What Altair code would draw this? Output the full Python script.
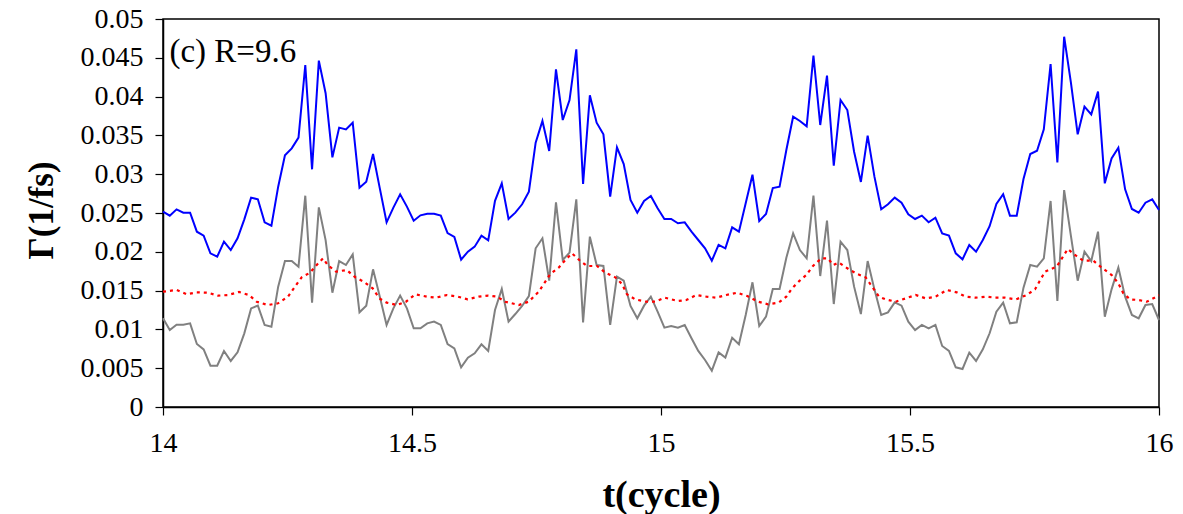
import altair as alt
import pandas as pd
import numpy as np

# time grid (cycles): 148 evenly spaced samples from 14 to 16
T = np.linspace(14, 16, 148)

BLUE = [
    0.02517, 0.02466, 0.02547, 0.02504, 0.02504, 0.02259, 0.02208, 0.01980, 0.01937, 0.02131,
    0.02023, 0.02174, 0.02418, 0.02698, 0.02676, 0.02380, 0.02337, 0.02839, 0.03243, 0.03333,
    0.03471, 0.04407, 0.03063, 0.04463, 0.04043,
    0.03217, 0.03600, 0.03578, 0.03664, 0.02826, 0.02904, 0.03260, 0.02818, 0.02380, 0.02569,
    0.02741, 0.02582, 0.02401, 0.02470, 0.02491, 0.02491, 0.02466, 0.02242, 0.02191, 0.01899,
    0.02002, 0.02066, 0.02208, 0.02148, 0.02657,
    0.02882, 0.02423, 0.02504, 0.02612, 0.02775, 0.03406, 0.03686, 0.03299, 0.04351, 0.03698,
    0.03956, 0.04609, 0.02874, 0.04016, 0.03664, 0.03514, 0.02710, 0.03346, 0.03131, 0.02668,
    0.02504, 0.02655, 0.02719, 0.02560,
    0.02423, 0.02423, 0.02367, 0.02380, 0.02259, 0.02152, 0.02045, 0.01886, 0.02088, 0.02045,
    0.02315, 0.02259, 0.02625, 0.02994, 0.02397, 0.02487, 0.02822, 0.02839, 0.03312, 0.03741,
    0.03686, 0.03617, 0.04527, 0.03634, 0.04270,
    0.03110, 0.03956, 0.03827, 0.03290, 0.02900, 0.03497, 0.02968, 0.02547, 0.02612, 0.02698,
    0.02633, 0.02483, 0.02423, 0.02466, 0.02380, 0.02440, 0.02238, 0.02208, 0.01980, 0.01903,
    0.02088, 0.02002, 0.02152, 0.02330,
    0.02616, 0.02741, 0.02466, 0.02466, 0.02938, 0.03260, 0.03303, 0.03578, 0.04420, 0.03153,
    0.04772, 0.04180, 0.03514, 0.03870, 0.03771, 0.04064, 0.02882, 0.03204, 0.03342, 0.02805,
    0.02552, 0.02504, 0.02633, 0.02676, 0.02539,
]

GRAY = [
    0.01143, 0.00992, 0.01061, 0.01061, 0.01078, 0.00812, 0.00743, 0.00533, 0.00533, 0.00722,
    0.00593, 0.00704, 0.00949, 0.01271, 0.01306, 0.01057, 0.01035, 0.01551, 0.01881, 0.01881,
    0.01808, 0.02723, 0.01344, 0.02573, 0.02150,
    0.01473, 0.01881, 0.01830, 0.01967, 0.01220, 0.01306, 0.01774, 0.01422, 0.01057, 0.01271,
    0.01435, 0.01271, 0.01014, 0.01014, 0.01078, 0.01100, 0.01057, 0.00812, 0.00756, 0.00511,
    0.00636, 0.00692, 0.00808, 0.00722, 0.01250,
    0.01521, 0.01100, 0.01198, 0.01302, 0.01430, 0.02045, 0.02174, 0.01628, 0.02637, 0.01894,
    0.01989, 0.02676, 0.01091, 0.02195, 0.01830, 0.01817, 0.01057, 0.01680, 0.01628, 0.01302,
    0.01143, 0.01306, 0.01422, 0.01229,
    0.01022, 0.01044, 0.01022, 0.01057, 0.00885, 0.00722, 0.00606, 0.00468, 0.00704, 0.00636,
    0.00893, 0.00808, 0.01186, 0.01607, 0.01044, 0.01164, 0.01521, 0.01521, 0.01924, 0.02238,
    0.02023, 0.01916, 0.02723, 0.01688, 0.02401,
    0.01327, 0.02131, 0.02023, 0.01551, 0.01198, 0.01881, 0.01516, 0.01186, 0.01220, 0.01349,
    0.01306, 0.01100, 0.00992, 0.01057, 0.01014, 0.01057, 0.00786, 0.00722, 0.00511, 0.00490,
    0.00700, 0.00593, 0.00743, 0.00950,
    0.01229, 0.01344, 0.01078, 0.01091, 0.01538, 0.01830, 0.01808, 0.01916, 0.02655, 0.01366,
    0.02796, 0.02204, 0.01628, 0.02002, 0.01881, 0.02259, 0.01164, 0.01516, 0.01796, 0.01422,
    0.01186, 0.01143, 0.01314, 0.01327, 0.01121,
]

RED_T = [
    14.000, 14.0275, 14.0476, 14.0677, 14.0904, 14.1104, 14.1305, 14.1526, 14.1727, 14.1882,
    14.2108, 14.2309, 14.2510, 14.2651, 14.2785, 14.2952, 14.3086, 14.3213, 14.3307, 14.3474,
    14.3689, 14.3861, 14.4030, 14.4211, 14.4343, 14.4492, 14.4699, 14.4880, 14.5066, 14.5295,
    14.5482, 14.5697, 14.5918, 14.6118, 14.6339, 14.6532, 14.6707, 14.6873, 14.7143, 14.7343,
    14.7544, 14.7677, 14.7777, 14.7946, 14.8078, 14.8213, 14.8380, 14.8514, 14.8715, 14.8882,
    14.9082, 14.9217, 14.9317, 14.9484, 14.9699, 14.9886, 15.0074, 15.0341, 15.0508, 15.0709,
    15.0910, 15.1110, 15.1311, 15.1526, 15.1733, 15.1948, 15.2149, 15.2363, 15.2516, 15.2631,
    15.2785, 15.2918, 15.3052, 15.3219, 15.3353, 15.3454, 15.3574, 15.3775, 15.3942, 15.4110,
    15.4263, 15.4378, 15.4512, 15.4713, 15.4914, 15.5114, 15.5315, 15.5516, 15.5737, 15.5938,
    15.6118, 15.6319, 15.6532, 15.6707, 15.6908, 15.7129, 15.7343, 15.7510, 15.7711, 15.7946,
    15.8167, 15.8313, 15.8480, 15.8681, 15.8849, 15.9050, 15.9183, 15.9283, 15.9418, 15.9584,
    15.9753, 15.9954, 16.000,
]
RED = [
    0.01486, 0.01508, 0.01452, 0.01478, 0.01473, 0.01435, 0.01443, 0.01482, 0.01443, 0.01357,
    0.01314, 0.01336, 0.01422, 0.01551, 0.01671, 0.01731, 0.01830, 0.01916, 0.01830, 0.01744,
    0.01765, 0.01671, 0.01615, 0.01529, 0.01400, 0.01345, 0.01314, 0.01357, 0.01452, 0.01422,
    0.01409, 0.01443, 0.01422, 0.01387, 0.01422, 0.01435, 0.01422, 0.01357, 0.01314, 0.01357,
    0.01486, 0.01615, 0.01714, 0.01796, 0.01894, 0.01980, 0.01881, 0.01817, 0.01817, 0.01731,
    0.01671, 0.01585, 0.01452, 0.01387, 0.01357, 0.01357, 0.01409, 0.01366, 0.01379, 0.01443,
    0.01422, 0.01409, 0.01443, 0.01473, 0.01430, 0.01357, 0.01323, 0.01345, 0.01422, 0.01529,
    0.01628, 0.01701, 0.01817, 0.01916, 0.01916, 0.01830, 0.01860, 0.01774, 0.01714, 0.01671,
    0.01529, 0.01422, 0.01387, 0.01357, 0.01400, 0.01443, 0.01400, 0.01422, 0.01508, 0.01478,
    0.01422, 0.01409, 0.01422, 0.01409, 0.01409, 0.01387, 0.01443, 0.01516, 0.01744, 0.01808,
    0.02036, 0.01959, 0.01886, 0.01886, 0.01796, 0.01701, 0.01594, 0.01465, 0.01387, 0.01379,
    0.01357, 0.01422, 0.01440,
]

X_TICKS = [14, 14.5, 15, 15.5, 16]
Y_TICKS = [0, 0.005, 0.01, 0.015, 0.02, 0.025, 0.03, 0.035, 0.04, 0.045, 0.05]
Y_LABELS = ["0", "0.005", "0.01", "0.015", "0.02", "0.025", "0.03", "0.035", "0.04", "0.045", "0.05"]
LABEL_TEXT = "(c) R=9.6"
LABEL_POS = (14.013, 0.0457)

FONT = "Liberation Serif"

df_blue = pd.DataFrame({"t": T, "v": BLUE})
df_gray = pd.DataFrame({"t": T, "v": GRAY})
df_red = pd.DataFrame({"t": RED_T, "v": RED})
df_lab = pd.DataFrame({"t": [LABEL_POS[0]], "v": [LABEL_POS[1]], "txt": [LABEL_TEXT]})

# label expression picks the text for each tick from the list above
y_label_expr = "[" + ",".join('"%s"' % s for s in Y_LABELS) + "][round(datum.value / 0.005)]"

x_axis = alt.Axis(
    values=X_TICKS, format="~g", title="t(cycle)", grid=False,
    labelOverlap=False, labelFlush=False,
    domainColor="black", domainWidth=1.5, tickColor="black", tickSize=8, tickWidth=1.2,
    labelFont=FONT, labelFontSize=28, labelColor="black", labelPadding=14,
    titleFont=FONT, titleFontSize=38, titleFontWeight="bold", titleColor="black",
    titleY=99, titleBaseline="alphabetic",
)
y_axis = alt.Axis(
    values=Y_TICKS, labelExpr=y_label_expr, title="\u0393(1/fs)", grid=False,
    labelOverlap=False, labelFlush=False, tickCount=11,
    domainColor="black", domainWidth=1.5, tickColor="black", tickSize=8, tickWidth=1.2,
    labelFont=FONT, labelFontSize=28, labelColor="black", labelPadding=12,
    titleFont=FONT, titleFontSize=35, titleFontWeight="bold", titleColor="black",
    titleX=-122, titleY=191, titleAngle=270, titleBaseline="middle", titleAlign="center",
)
x_enc = alt.X("t:Q", scale=alt.Scale(domain=[14, 16], nice=False, zero=False), axis=x_axis)
y_enc = alt.Y("v:Q", scale=alt.Scale(domain=[0, 0.05], nice=False), axis=y_axis)

blue = alt.Chart(df_blue).mark_line(color="#0000FF", strokeWidth=2).encode(x=x_enc, y=y_enc)
gray = alt.Chart(df_gray).mark_line(color="#808080", strokeWidth=2).encode(x=x_enc, y=y_enc)
red = alt.Chart(df_red).mark_line(color="#FF0000", strokeWidth=2.2, strokeDash=[3, 4]).encode(x=x_enc, y=y_enc)
label = alt.Chart(df_lab).mark_text(
    align="left", baseline="middle", font=FONT, fontSize=33, color="black"
).encode(x=x_enc, y=y_enc, text="txt:N")

chart = (
    alt.layer(blue, gray, red, label)
    .properties(
        width=996, height=388,
        autosize=alt.AutoSizeParams(type="none"),
        padding={"left": 163, "top": 19, "right": 24, "bottom": 107},
        background="white",
    )
    .configure(font=FONT)
    .configure_axis(labelFont=FONT, titleFont=FONT, labelOverlap=False)
    .configure_view(stroke="black", strokeWidth=1.5)
)

chart.save("out.html", embed_options={"renderer": "svg", "actions": False})
